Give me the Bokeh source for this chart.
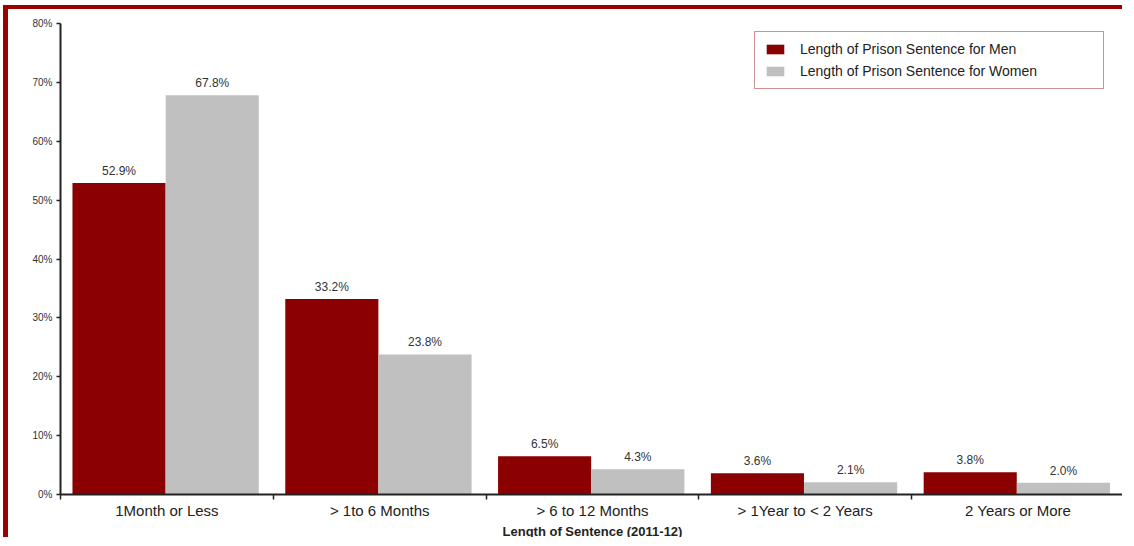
from bokeh.plotting import figure
from bokeh.models import (ColumnDataSource, Range1d, FixedTicker, Legend, LegendItem)
from bokeh.transform import dodge
from bokeh.core.properties import value
from bokeh.embed import file_html
from bokeh.resources import INLINE

categories = ["1Month or Less", "> 1to 6 Months", "> 6 to 12 Months",
              "> 1Year to < 2 Years", "2 Years or More"]
men = [52.9, 33.2, 6.5, 3.6, 3.8]
women = [67.8, 23.8, 4.3, 2.1, 2.0]
y_ticks = [0, 10, 20, 30, 40, 50, 60, 70, 80]
y_tick_labels = ["0%", "10%", "20%", "30%", "40%", "50%", "60%", "70%", "80%"]

FONT = "Liberation Sans"
MEN_C = "#8B0000"
WOMEN_C = "#C0C0C0"
TXT = "#222222"

xpos = [i + 0.5 for i in range(len(categories))]
src = ColumnDataSource(dict(
    x=xpos, men=men, women=women,
    men_lbl=[f"{v:.1f}%" for v in men],
    women_lbl=[f"{v:.1f}%" for v in women],
))

p = figure(width=1119, height=532, output_backend="svg", toolbar_location=None,
           x_range=Range1d(0, len(categories)), y_range=Range1d(0, 80),
           min_border_left=52, min_border_right=3, min_border_top=14,
           min_border_bottom=47)
p.margin = (5, 0, 0, 3)
p.outline_line_color = None
p.xgrid.visible = False
p.ygrid.visible = False
p.background_fill_color = "white"
p.border_fill_color = "white"
p.styles = {"border-top": "4px solid #9c0000", "border-left": "5px solid #9c0000"}

OFF_M = -0.225
OFF_W = 0.213
W = 0.4375
r_men = p.vbar(x=dodge("x", OFF_M, range=p.x_range), top="men", width=W, bottom=0,
               source=src, fill_color=MEN_C, line_color=None)
r_women = p.vbar(x=dodge("x", OFF_W, range=p.x_range), top="women", width=W, bottom=0,
                 source=src, fill_color=WOMEN_C, line_color=None)

for col, lbl, off in (("men", "men_lbl", OFF_M), ("women", "women_lbl", OFF_W)):
    p.text(x=dodge("x", off, range=p.x_range), y=col, text=lbl, source=src,
           text_align="center", text_baseline="bottom", y_offset=-5,
           text_font=value(FONT), text_font_size="12px", text_color="#333333")

# y axis
ya = p.yaxis[0]
ya.ticker = FixedTicker(ticks=y_ticks)
ya.major_label_overrides = {t: l for t, l in zip(y_ticks, y_tick_labels)}
ya.major_tick_in = 0
ya.major_tick_out = 4
ya.minor_tick_in = 0
ya.minor_tick_out = 0
ya.axis_line_width = 2
ya.axis_line_color = TXT
ya.major_tick_line_color = TXT
ya.major_tick_line_width = 1.5
ya.major_label_text_font = FONT
ya.major_label_text_font_size = "10px"
ya.major_label_text_color = "#333333"
ya.major_label_standoff = 4

# x axis
xa = p.xaxis[0]
xa.ticker = FixedTicker(ticks=xpos, minor_ticks=list(range(len(categories) + 1)))
xa.major_label_overrides = {x: c for x, c in zip(xpos, categories)}
xa.major_tick_in = 0
xa.major_tick_out = 0
xa.minor_tick_in = 0
xa.minor_tick_out = 5
xa.minor_tick_line_color = TXT
xa.minor_tick_line_width = 1.5
xa.axis_line_width = 2
xa.axis_line_color = TXT
xa.major_label_text_font = FONT
xa.major_label_text_font_size = "15px"
xa.major_label_text_color = TXT
xa.major_label_standoff = 2
xa.axis_label = "Length of Sentence (2011-12)"
xa.axis_label_text_font = FONT
xa.axis_label_text_font_size = "13px"
xa.axis_label_text_font_style = "bold"
xa.axis_label_text_color = TXT
xa.axis_label_standoff = 2

legend = Legend(items=[
    LegendItem(label="Length of Prison Sentence for Men", renderers=[r_men]),
    LegendItem(label="Length of Prison Sentence for Women", renderers=[r_women]),
], location=(694, 405))
legend.margin = 0
legend.padding = 9
legend.spacing = 6
legend.glyph_width = 22
legend.glyph_height = 12
legend.label_standoff = 14
legend.label_height = 12
legend.label_width = 294
legend.label_text_font = FONT
legend.label_text_font_size = "14px"
legend.label_text_color = TXT
legend.border_line_color = "#a02424"
legend.border_line_width = 1.5
legend.background_fill_alpha = 1
p.add_layout(legend)

open("out.html", "w").write(file_html(p, INLINE))
